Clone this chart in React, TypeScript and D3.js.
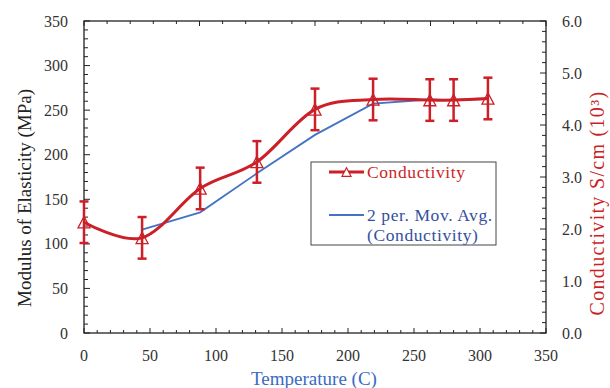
import React from "react";
import * as d3 from "d3";

const temperature = [0, 44, 88, 131, 175, 219, 262, 280, 306];
const conductivity = [2.13, 1.83, 2.78, 3.29, 4.3, 4.49, 4.48, 4.48, 4.51];
const errorBars = [0.4, 0.4, 0.4, 0.4, 0.4, 0.4, 0.4, 0.4, 0.4];
const movAvgTemperature = [44, 88, 131, 175, 219, 262, 280, 306];
const movAvg = [1.99, 2.32, 3.07, 3.81, 4.41, 4.49, 4.48, 4.5];
const xTicks = [0, 50, 100, 150, 200, 250, 300, 350];
const yLeftTicks = [0, 50, 100, 150, 200, 250, 300, 350];
const yRightTicks = [0, 1, 2, 3, 4, 5, 6];

const W = 610;
const H = 388;
const L = 84, R = 546, T = 21, B = 333;
const RED = "#cc1f27";
const BLUE = "#4472c4";
const FONT = "'Liberation Serif', 'Times New Roman', serif";

export default function App() {
  const x = d3.scaleLinear().domain([0, 350]).range([L, R]);
  const yL = d3.scaleLinear().domain([0, 350]).range([B, T]);
  const yR = d3.scaleLinear().domain([0, 6]).range([B, T]);
  const topScale = d3.scaleLinear().domain([0, 20]).range([L, R]);

  const pts = temperature.map((t, i) => [x(t), yR(conductivity[i])] as [number, number]);
  const redPath = d3.line().curve(d3.curveCatmullRom.alpha(0))(pts) || "";
  const bluePath =
    d3.line()(movAvgTemperature.map((t, i) => [x(t), yR(movAvg[i])] as [number, number])) || "";

  const tri = (cx: number, cy: number, s = 12) => {
    const h = s * 0.95;
    return `M${cx},${cy - h / 2}L${cx + s / 2},${cy + h / 2}L${cx - s / 2},${cy + h / 2}Z`;
  };

  const minorX = d3.range(0, 351, 10);
  const minorYL = d3.range(0, 351, 10);
  const minorYR = d3.range(0, 6.001, 0.2);

  return (
    <svg
      width={W}
      height={H}
      style={{ position: "absolute", left: 0, top: 0, background: "#fff" }}
      fontFamily={FONT}
    >
      <rect x={L} y={T} width={R - L} height={B - T} fill="none" stroke="#222" strokeWidth={1.3} />

      {d3.range(21).map((i) => (
        <line key={"tt" + i} x1={topScale(i)} x2={topScale(i)} y1={T} y2={T + (i % 5 === 0 ? 5 : 3)} stroke="#222" strokeWidth={1} />
      ))}
      {minorX.map((v) => (
        <line key={"bt" + v} x1={x(v)} x2={x(v)} y1={B} y2={B - (v % 50 === 0 ? 5 : 3)} stroke="#222" strokeWidth={1} />
      ))}
      {minorYL.map((v) => (
        <line key={"lt" + v} x1={L} x2={L + (v % 50 === 0 ? 6 : 4)} y1={yL(v)} y2={yL(v)} stroke="#222" strokeWidth={1} />
      ))}
      {minorYR.map((v, i) => (
        <line key={"rt" + i} x1={R} x2={R - (i % 5 === 0 ? 6 : 4)} y1={yR(v)} y2={yR(v)} stroke="#222" strokeWidth={1} />
      ))}

      {xTicks.map((v) => (
        <text key={"xl" + v} x={x(v)} y={361} textAnchor="middle" fontSize={16} fill="#333">
          {v}
        </text>
      ))}
      {yLeftTicks.map((v) => (
        <text key={"yl" + v} x={68} y={yL(v) + 5.5} textAnchor="end" fontSize={16} fill="#333">
          {v}
        </text>
      ))}
      {yRightTicks.map((v) => (
        <text key={"yr" + v} x={562} y={yR(v) + 5.5} textAnchor="start" fontSize={16} fill="#333">
          {v.toFixed(1)}
        </text>
      ))}

      <text x={314} y={385} textAnchor="middle" fontSize={19} fill="#3a6ac4">
        Temperature (C)
      </text>
      <text transform={`translate(31,198) rotate(-90)`} textAnchor="middle" fontSize={19} fill="#222">
        Modulus of Elasticity (MPa)
      </text>
      <text transform={`translate(604,203) rotate(-90)`} textAnchor="middle" fontSize={20} fill={RED} letterSpacing={1.3}>
        Conductivity  S/cm (10³)
      </text>

      <path d={bluePath} fill="none" stroke={BLUE} strokeWidth={1.8} />
      <path d={redPath} fill="none" stroke={RED} strokeWidth={3} />

      {pts.map(([px], i) => {
        const top = yR(conductivity[i] + errorBars[i]);
        const bot = yR(conductivity[i] - errorBars[i]);
        return (
          <g key={"eb" + i} stroke={RED} strokeWidth={2.5}>
            <line x1={px} x2={px} y1={top} y2={bot} />
            <line x1={px - 4.5} x2={px + 4.5} y1={top} y2={top} />
            <line x1={px - 4.5} x2={px + 4.5} y1={bot} y2={bot} />
          </g>
        );
      })}

      {pts.map(([px, py], i) => (
        <path key={"m" + i} d={tri(px, py)} fill="none" stroke={RED} strokeWidth={1.3} />
      ))}

      <rect x={311} y={162} width={185} height={83} fill="#fff" stroke="#444" strokeWidth={1} />
      <line x1={329} x2={364} y1={172} y2={172} stroke={RED} strokeWidth={3} />
      <path d={tri(346.5, 172, 9)} fill="#fff" stroke={RED} strokeWidth={1.2} />
      <text x={367} y={178} fontSize={17.5} fill={RED} letterSpacing={0.6}>
        Conductivity
      </text>
      <line x1={329} x2={364} y1={215} y2={215} stroke={BLUE} strokeWidth={1.8} />
      <text x={367} y={220.5} fontSize={17.5} fill="#34509e" letterSpacing={0.6}>
        2 per. Mov. Avg.
      </text>
      <text x={367} y={240.5} fontSize={17.5} fill="#34509e" letterSpacing={0.6}>
        (Conductivity)
      </text>
    </svg>
  );
}
